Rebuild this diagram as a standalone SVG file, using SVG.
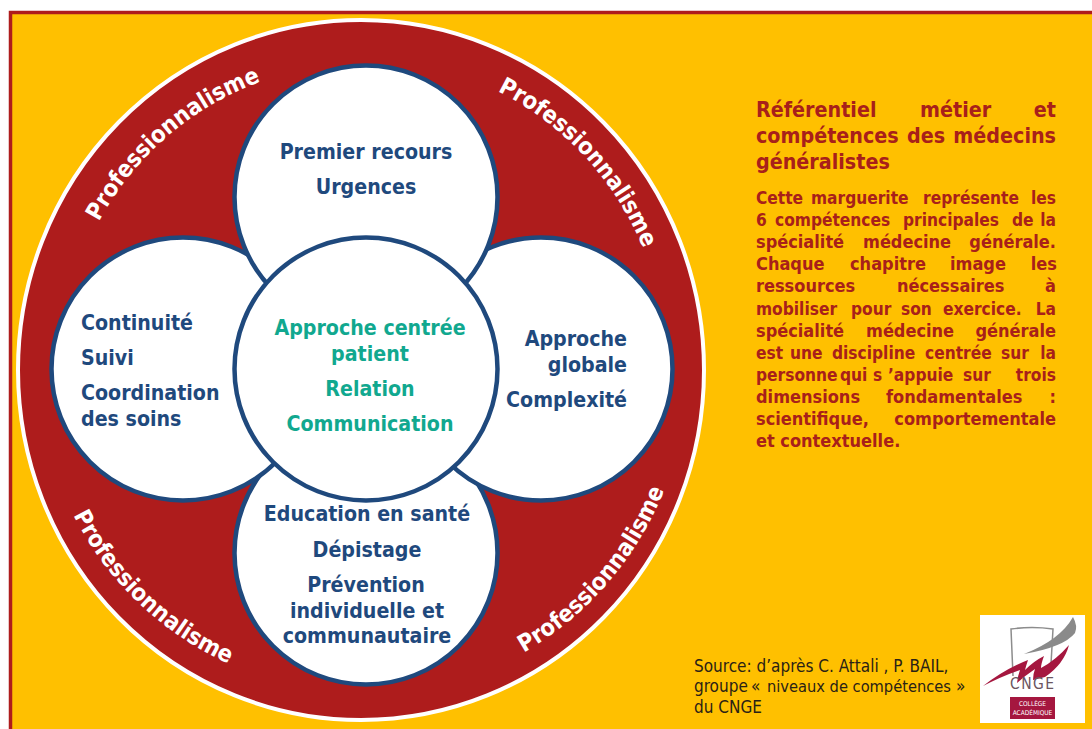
<svg xmlns="http://www.w3.org/2000/svg" width="1092" height="729" viewBox="0 0 1092 729">
<style>
text{font-family:"DejaVu Sans Condensed","DejaVu Sans","Noto Sans",sans-serif;font-weight:700}
.c{fill:#fff;stroke:#1f497d;stroke-width:4.500}
.n{fill:#1f497d;font-size:21.2px}
.t{fill:#11a88f;font-size:21.2px}
.m{text-anchor:middle}
.e{text-anchor:end}
.p{fill:#fff;font-size:23.5px;text-anchor:middle}
.h{fill:#a8201a;font-size:21.3px}
.b{fill:#a8201a;font-size:18px}
.d{font-size:17.2px}
.s{fill:#2a2216;font-size:17px;font-weight:400}
</style>
<defs>
<path id="a1" d="M65.6 317.9A300 306 0 0 1 361 64"/>
<path id="a2" d="M398.2 61A305 305 0 0 1 665.6 354"/>
<path id="a3" d="M41.4 409.500A322 322 0 0 0 344.3 691.600"/>
<path id="a4" d="M412 692A326 326 0 0 0 687 375.700"/>
</defs>
<rect width="1092" height="729" fill="#fff"/>
<rect x="10.5" y="12.5" width="1100" height="730" fill="#ffc000" stroke="#ae1c1c" stroke-width="3.500"/>
<g id="ring">
<ellipse cx="361" cy="370" rx="343" ry="350" fill="#ae1c1c" stroke="#fff" stroke-width="4"/>
<text class="p"><textPath href="#a1" startOffset="50%">Professionnalisme</textPath></text>
<text class="p"><textPath href="#a2" startOffset="49.500%">Professionnalisme</textPath></text>
<text class="p"><textPath href="#a3" startOffset="49%">Professionnalisme</textPath></text>
<text class="p"><textPath href="#a4" startOffset="50.200%">Professionnalisme</textPath></text>
</g>
<g id="connectors"></g>
<g id="node-bottom"><circle class="c" cx="366" cy="553" r="131.500"/>
<text class="n m" x="367" y="521">Education en santé</text>
<text class="n m" x="367" y="557">Dépistage</text>
<text class="n m" x="366" y="592">Prévention</text>
<text class="n m" x="367" y="618">individuelle et</text>
<text class="n m" x="367" y="643">communautaire</text></g>
<g id="node-left"><circle class="c" cx="183" cy="369" r="131.500"/>
<text class="n" x="81" y="330">Continuité</text>
<text class="n" x="81" y="365">Suivi</text>
<text class="n" x="81" y="400">Coordination</text>
<text class="n" x="81" y="426">des soins</text></g>
<g id="node-right"><circle class="c" cx="541" cy="369" r="131.500"/>
<text class="n e" x="627" y="346">Approche</text>
<text class="n e" x="627" y="372">globale</text>
<text class="n e" x="627" y="407">Complexité</text></g>
<g id="node-top"><circle class="c" cx="366" cy="197" r="131.500"/>
<text class="n m" x="366" y="159">Premier recours</text>
<text class="n m" x="366" y="194">Urgences</text></g>
<g id="node-center"><circle class="c" cx="366" cy="369" r="131.500"/>
<text class="t m" x="370" y="335">Approche centrée</text>
<text class="t m" x="370" y="361">patient</text>
<text class="t m" x="370" y="396">Relation</text>
<text class="t m" x="370" y="431">Communication</text></g>
<g id="title">
<text class="h" y="117"><tspan x="756">Référentiel</tspan><tspan x="920">métier</tspan><tspan x="1056" class="e">et</tspan></text>
<text class="h" y="143"><tspan x="756">compétences</tspan><tspan x="907">des</tspan><tspan x="1056" class="e">médecins</tspan></text>
<text class="h" y="169" x="756">généralistes</text>
</g>
<g id="body">
<text class="b d" y="204"><tspan x="756">Cette</tspan><tspan x="811">marguerite</tspan><tspan x="1019" class="e">représente</tspan><tspan x="1056" class="e">les</tspan></text>
<text class="b d" y="226"><tspan x="756">6</tspan><tspan x="775">compétences</tspan><tspan x="903">principales</tspan><tspan x="1012">de</tspan><tspan x="1056" class="e">la</tspan></text>
<text class="b" y="248"><tspan x="756">spécialité</tspan><tspan x="863">médecine</tspan><tspan x="1056" class="e">générale.</tspan></text>
<text class="b" y="270"><tspan x="756">Chaque</tspan><tspan x="850">chapitre</tspan><tspan x="950">image</tspan><tspan x="1057" class="e">les</tspan></text>
<text class="b" y="292"><tspan x="756">ressources</tspan><tspan x="897">nécessaires</tspan><tspan x="1056" class="e">à</tspan></text>
<text class="b d" y="315"><tspan x="756">mobiliser</tspan><tspan x="851">pour</tspan><tspan x="901">son</tspan><tspan x="943">exercice.</tspan><tspan x="1056" class="e">La</tspan></text>
<text class="b" y="337"><tspan x="756">spécialité</tspan><tspan x="866">médecine</tspan><tspan x="1056" class="e">générale</tspan></text>
<text class="b d" y="359"><tspan x="756">est</tspan><tspan x="790">une</tspan><tspan x="832">discipline</tspan><tspan x="925">centrée</tspan><tspan x="1001">sur</tspan><tspan x="1056" class="e">la</tspan></text>
<text class="b d" y="381"><tspan x="756">personne</tspan><tspan x="840">qui</tspan><tspan x="873">s</tspan><tspan x="888">’appuie</tspan><tspan x="963">sur</tspan><tspan x="1056" class="e">trois</tspan></text>
<text class="b" y="403"><tspan x="756">dimensions</tspan><tspan x="886">fondamentales</tspan><tspan x="1056" class="e">:</tspan></text>
<text class="b" y="425"><tspan x="756">scientifique,</tspan><tspan x="1056" class="e">comportementale</tspan></text>
<text class="b" y="447" x="756">et contextuelle.</text>
</g>
<g id="source">
<text class="s" x="694" y="672">Source: d’après C. Attali , P. BAIL,</text>
<text class="s" y="692"><tspan x="694">groupe</tspan><tspan x="751">«</tspan><tspan x="767" font-size="16.300">niveaux de compétences</tspan><tspan x="956">»</tspan></text>
<text class="s" x="694" y="713">du CNGE</text>
</g>
<g id="logo">
<rect x="980" y="615" width="105" height="108" fill="#fff"/>
<path d="M1013 676L1011 629Q1032 626 1053 629L1051 664" fill="none" stroke="#8c8c8c" stroke-width="1.500"/>
<path d="M1073 617Q1078 626 1075 633Q1064 647 1024 654Q1060 640 1073 617Z" fill="#8a8a8a"/>
<path d="M983 686Q1005 669 1028 660Q1026 666 1025 670Q1034 661 1044 656Q1041 664 1041 668Q1056 660 1069 645Q1064 664 1045 677L1033 680Q1033 674 1035 669Q1026 675 1017 683Q1018 675 1020 670Q1002 676 983 686Z" fill="#a5173f"/>
<text x="1032" y="689" text-anchor="middle" font-size="15.500" textLength="44" fill="#6b5560" style="font-weight:400">CNGE</text>
<rect x="1010" y="697" width="45" height="22" fill="#a5173f"/>
<text x="1032.500" y="706" text-anchor="middle" font-size="6.500" fill="#fff" style="font-weight:400">COLLÈGE</text>
<text x="1032.500" y="715" text-anchor="middle" font-size="6.500" fill="#fff" style="font-weight:400">ACADÉMIQUE</text>
</g>
</svg>
